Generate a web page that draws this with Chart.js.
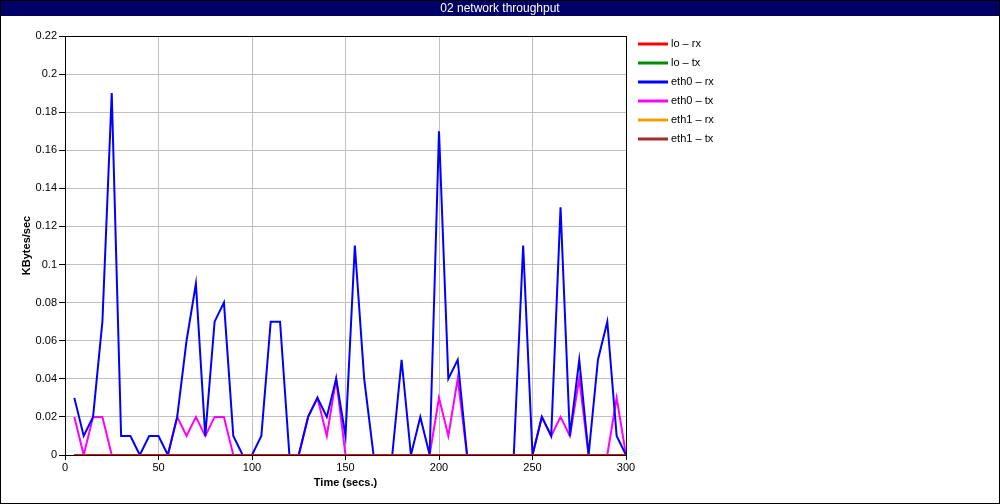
<!DOCTYPE html>
<html>
<head>
<meta charset="utf-8">
<script src="https://cdn.jsdelivr.net/npm/chart.js@4.4.1/dist/chart.umd.min.js"></script>
<style>
  html, body { margin:0; padding:0; background:#fff; }
  #wrap { position:relative; width:1000px; height:504px; }
</style>
</head>
<body>
<div id="wrap"><canvas id="chart" width="1000" height="504"></canvas></div>
<script>
// sample times (secs.)
const times = [5,10,15,20,25,30,35,40,45,50,55,60,65,70,75,80,85,90,95,100,
  105,110,115,120,125,130,135,140,145,150,155,160,165,170,175,180,185,190,195,200,
  205,210,215,220,225,230,235,240,245,250,255,260,265,270,275,280,285,290,295,300];

// series values (KBytes/sec)
const loRx   = times.map(() => 0);
const loTx   = times.map(() => 0);
const eth1Rx = times.map(() => 0);
const eth1Tx = times.map(() => 0);
const eth0Rx = [0.03,0.01,0.02,0.07,0.19,0.01,0.01,0,0.01,0.01,0,0.02,0.06,0.09,0.01,0.07,0.08,0.01,0,0,
  0.01,0.07,0.07,0,0,0.02,0.03,0.02,0.04,0.01,0.11,0.04,0,0,0,0.05,0,0.02,0,0.17,
  0.04,0.05,0,0,0,0,0,0,0.11,0,0.02,0.01,0.13,0.01,0.05,0,0.05,0.07,0.01,0];
const eth0Tx = [0.02,0,0.02,0.02,0,0,0,0,0,0,0,0.02,0.01,0.02,0.01,0.02,0.02,0,0,0,
  0,0,0,0,0,0.02,0.03,0.01,0.04,0,0,0,0,0,0,0,0,0,0,0.03,
  0.01,0.04,0,0,0,0,0,0,0,0,0.02,0.01,0.02,0.01,0.04,0,0,0,0.03,0];

const seriesNames  = ['lo \u2013 rx','lo \u2013 tx','eth0 \u2013 rx','eth0 \u2013 tx','eth1 \u2013 rx','eth1 \u2013 tx'];
const seriesValues = [loRx, loTx, eth0Rx, eth0Tx, eth1Rx, eth1Tx];
const seriesColors = ['#ff0000','#008c00','#0000ff','#ff00ff','#f0a000','#a52a2a'];

const FONT = 'Liberation Sans, Arial, sans-serif';

// frame, title bar, plot border and legend
const decor = {
  id: 'decor',
  beforeDraw(chart){
    const c = chart.ctx;
    c.save();
    c.fillStyle = '#fff';
    c.fillRect(0,0,chart.width,chart.height);
    c.restore();
  },
  afterDraw(chart){
    const c = chart.ctx, a = chart.chartArea;
    c.save();
    // outer frame
    c.strokeStyle = '#000'; c.lineWidth = 1;
    c.strokeRect(0.5,0.5,999,503);
    // title bar
    c.fillStyle = '#000066';
    c.fillRect(1,1,998,15);
    c.fillStyle = '#fff';
    c.font = '12px ' + FONT;
    c.textAlign = 'center'; c.textBaseline = 'middle';
    c.fillText('02 network throughput', 500, 8.5);
    // plot box
    c.strokeStyle = '#000';
    c.strokeRect(Math.round(a.left)+0.5, Math.round(a.top)+0.5, Math.round(a.right-a.left), Math.round(a.bottom-a.top));
    // legend
    c.font = '11px ' + FONT;
    c.textAlign = 'left'; c.textBaseline = 'middle';
    chart.data.datasets.forEach((ds,i)=>{
      const y = 44 + i*19;
      c.strokeStyle = ds.borderColor; c.lineWidth = 3;
      c.beginPath(); c.moveTo(638,y); c.lineTo(668,y); c.stroke();
      c.fillStyle = '#000';
      c.fillText(ds.label, 671, y);
    });
    c.restore();
  }
};

new Chart(document.getElementById('chart'), {
  type: 'line',
  data: {
    datasets: seriesNames.map((name,i)=>({
      label: name,
      data: times.map((t,j)=>({x:t, y:seriesValues[i][j]})),
      borderColor: seriesColors[i],
      backgroundColor: seriesColors[i],
      borderWidth: 2,
      pointRadius: 0,
      tension: 0,
      fill: false
    }))
  },
  options: {
    responsive: false,
    animation: false,
    events: [],
    layout: { padding: { top: 36, right: 374, left: 0, bottom: 0 } },
    plugins: { legend: { display:false }, tooltip: { enabled:false }, title: { display:false } },
    scales: {
      x: {
        type: 'linear', min: 0, max: 300,
        ticks: { stepSize: 50, color:'#000', font:{family:FONT, size:11}, padding: 1, maxRotation:0 },
        grid: { color:'#c0c0c0', tickColor:'#000', tickLength:5 },
        border: { color:'#000' },
        title: { display:true, text:'Time (secs.)', color:'#000', font:{family:FONT, size:11, weight:'bold'}, padding:{top:0,bottom:14} },
        afterFit(s){ s.height = 49; }
      },
      y: {
        min: 0, max: 0.22,
        ticks: { stepSize: 0.02, color:'#000', font:{family:FONT, size:11}, padding: 2,
          callback: v => +v.toFixed(2) + '' },
        grid: { color:'#c0c0c0', tickColor:'#000', tickLength:6 },
        border: { color:'#000' },
        title: { display:true, text:'KBytes/sec', color:'#000', font:{family:FONT, size:11, weight:'bold'}, padding:{top:20,bottom:0} },
        afterFit(s){ s.width = 65; }
      }
    }
  },
  plugins: [decor]
});
</script>
</body>
</html>
